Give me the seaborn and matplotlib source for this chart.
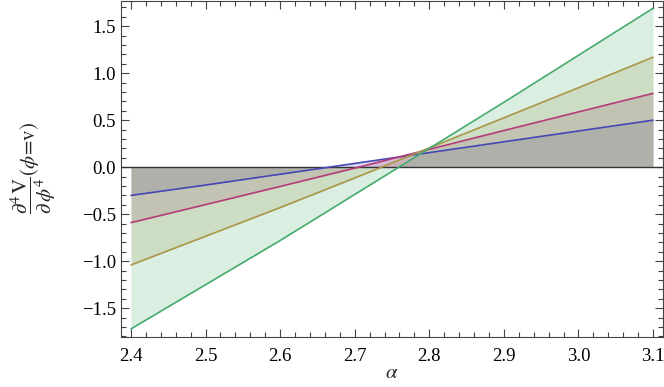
import numpy as np
import pandas as pd
import matplotlib
matplotlib.use("Agg")
import matplotlib.pyplot as plt
import seaborn as sns
from matplotlib.ticker import MultipleLocator, FuncFormatter

# ---- data ----
alpha = [2.4, 2.5, 2.6, 2.7, 2.8, 2.9, 3.0, 3.1]
blue   = [-0.30, -0.19, -0.075, 0.04, 0.155, 0.27, 0.385, 0.50]
purple = [-0.59, -0.398, -0.205, -0.01, 0.19, 0.39, 0.588, 0.785]
olive  = [-1.04, -0.735, -0.43, -0.115, 0.205, 0.525, 0.845, 1.17]
green  = [-1.72, -1.25, -0.78, -0.29, 0.20, 0.69, 1.19, 1.69]
series_names = ["s1", "s2", "s3", "s4"]
x_ticks = [2.4, 2.5, 2.6, 2.7, 2.8, 2.9, 3.0, 3.1]
y_ticks = [-1.5, -1.0, -0.5, 0.0, 0.5, 1.0, 1.5]

colors = ["#4646b4", "#b43c78", "#aa9646", "#46aa6e"]

df = pd.DataFrame({
    "alpha": alpha * 4,
    "value": blue + purple + olive + green,
    "series": sum([[n] * len(alpha) for n in series_names], []),
})

sns.set_style("ticks")
plt.rcParams["font.family"] = ["Liberation Serif", "DejaVu Serif"]
plt.rcParams["mathtext.fontset"] = "stix"

fig = plt.figure(figsize=(6.64, 3.87), dpi=100)
ax = fig.add_axes([121 / 664, 1 - 337 / 387, (663 - 121) / 664, 337 / 387 - 0.002])

# fills to axis
for name, c in zip(series_names, colors):
    sub = df[df.series == name]
    ax.fill_between(sub["alpha"], sub["value"], 0, color=c, alpha=0.2, lw=0)

ax.axhline(0, color="#333333", lw=1.0, zorder=3)

sns.lineplot(data=df, x="alpha", y="value", hue="series", palette=colors,
             legend=False, ax=ax, lw=1.2, zorder=4)

ax.set_xlim(2.3866, 3.1134)
ax.set_ylim(-1.806, 1.77)

ax.set_xticks(x_ticks)
ax.set_yticks(y_ticks)
ax.xaxis.set_minor_locator(MultipleLocator(0.02))
ax.yaxis.set_minor_locator(MultipleLocator(0.1))
fmt = FuncFormatter(lambda v, p: ("%.1f" % v).replace("-", "\u2212"))
ax.xaxis.set_major_formatter(fmt)
ax.yaxis.set_major_formatter(fmt)

ax.tick_params(which="both", direction="in", top=True, right=True,
               colors="#444444", labelcolor="black", labelsize=13.5, width=0.8)
ax.tick_params(which="major", length=6)
ax.tick_params(which="minor", length=3.5)
ax.tick_params(axis="x", pad=8)
for s in ax.spines.values():
    s.set_color("#444444")
    s.set_linewidth(0.8)

ax.set_xlabel("")
ax.set_ylabel("")
fig.text(392 / 664, 1 - 374 / 387, r"$\alpha$", ha="center", va="center", fontsize=15)
fig.text(33 / 664, 1 - 168 / 387,
         r"$\dfrac{\partial^4\,\mathrm{V}}{\partial\,\phi^4}(\phi\!=\!\mathrm{v})$",
         rotation=90, ha="center", va="center", fontsize=15)

fig.savefig("out.png", dpi=100)
